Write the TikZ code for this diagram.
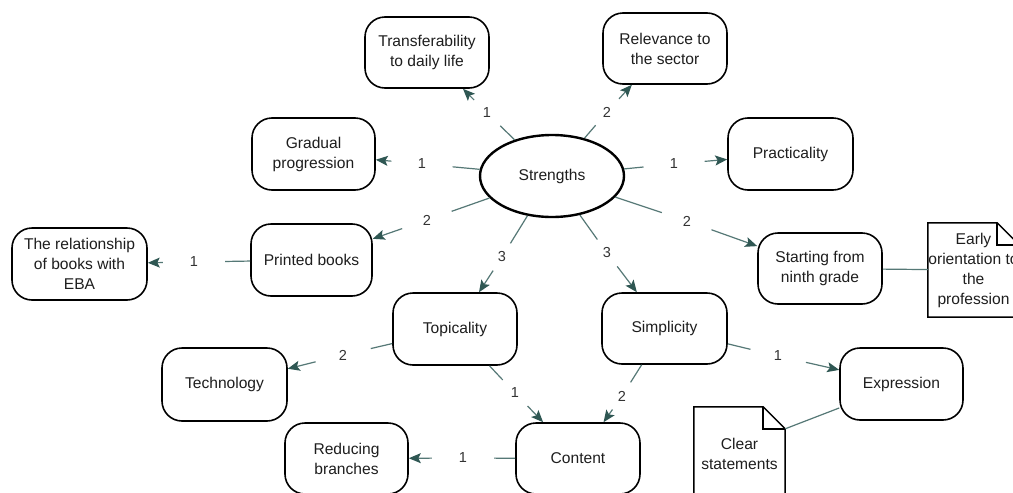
\documentclass[tikz,border=0pt]{standalone}
\usepackage{fontspec}
\setmainfont{Liberation Sans}
\usetikzlibrary{shapes.geometric,arrows.meta}
\definecolor{conn}{HTML}{557876}
\definecolor{tipc}{HTML}{2F5753}
\definecolor{txt}{HTML}{1E1E1E}
\begin{document}
\begin{tikzpicture}[x=1pt,y=-1pt,
  box/.style={draw=black, line width=1.6pt, rounded corners=20pt,
    minimum width=124pt, minimum height=71pt, align=center,
    font=\fontsize{15.6}{20}\selectfont, text=txt, inner sep=2pt},
  notebox/.style={minimum width=91pt, minimum height=94pt, align=center,
    font=\fontsize{15.6}{20}\selectfont, text=txt, inner sep=0pt},
  notedraw/.style={draw=black, line width=1.5pt, line join=miter},
  lbl/.style={ellipse, minimum width=62pt, minimum height=28pt, inner sep=0pt,
    font=\fontsize{14.5}{16}\selectfont, text=black!80},
  link/.style={draw=conn, line width=1.2pt},
  arr/.style={link, -{Stealth[length=12pt,width=10pt,inset=2.5pt,color=tipc]}},
]
\useasboundingbox (0,0) rectangle (1013,493);
\fill[white] (0,0) rectangle (1013,493);

% central node
\node[ellipse, draw=black, line width=2.4pt, minimum width=144pt, minimum height=82pt,
  font=\fontsize{15.6}{20}\selectfont, text=txt] (S) at (552,176) {Strengths};

% boxes
\node[box] (T)  at (427,52.5)   {Transferability\\to daily life};
\node[box] (R)  at (665,48.5)   {Relevance to\\the sector};
\node[box, minimum width=123pt, minimum height=72pt] (G)  at (313.5,154) {Gradual\\progression};
\node[box, minimum width=125pt, minimum height=72pt] (P)  at (790.5,154) {Practicality};
\node[box, minimum width=121pt, minimum height=72pt] (PB) at (311.5,260) {Printed books};
\node[box, minimum width=135pt, minimum height=72pt] (EBA) at (79.5,264) {The relationship\\of books with\\EBA};
\node[box] (SN) at (820,268.5) {Starting from\\ninth grade};
\node[box, minimum height=72pt] (TP) at (455,329) {Topicality};
\node[box, minimum width=125pt] (SI) at (664.5,328.5) {Simplicity};
\node[box, minimum width=125pt, minimum height=73pt] (TE) at (224.5,384.5) {Technology};
\node[box, minimum width=123pt, minimum height=72pt] (EX) at (901.5,384) {Expression};
\node[box] (C)  at (578,458.5) {Content};
\node[box, minimum width=123pt] (RB) at (346.5,458.5) {Reducing\\branches};

% notes
\node[notebox] (EO) at (973.5,270) {Early\\orientation to\\the\\profession};
\draw[notedraw] (EO.south west) -- (EO.north west) -- ([xshift=-22pt]EO.north east)
  -- ([yshift=-22pt]EO.north east) -- (EO.south east) -- cycle;
\draw[notedraw] ([xshift=-22pt]EO.north east) |- ([yshift=-22pt]EO.north east);

\node[notebox] (CS) at (739.5,454) {Clear\\statements};
\draw[notedraw] (CS.south west) -- (CS.north west) -- ([xshift=-22pt]CS.north east)
  -- ([yshift=-22pt]CS.north east) -- (CS.south east) -- cycle;
\draw[notedraw] ([xshift=-22pt]CS.north east) |- ([yshift=-22pt]CS.north east);
\coordinate (CSc) at ([yshift=-22pt]CS.north east);

% labels
\node[lbl] (l1)  at (487,113) {1};
\node[lbl] (l2)  at (607,112) {2};
\node[lbl] (l3)  at (674,164) {1};
\node[lbl] (l4)  at (422,164) {1};
\node[lbl] (l5)  at (427,220) {2};
\node[lbl] (l6)  at (502,257) {3};
\node[lbl] (l7)  at (607,253) {3};
\node[lbl] (l8)  at (687,221) {2};
\node[lbl] (l9)  at (194,262) {1};
\node[lbl] (l10) at (343,355) {2};
\node[lbl] (l11) at (515,393) {1};
\node[lbl] (l12) at (622,396) {2};
\node[lbl] (l13) at (778,356) {1};
\node[lbl] (l14) at (463,458) {1};

% connectors
\draw[link] (S) -- (l1);  \draw[arr] (l1) -- (T);
\draw[link] (S) -- (l2);  \draw[arr] (l2) -- (R);
\draw[link] (S) -- (l3);  \draw[arr] (l3) -- (P);
\draw[link] (S) -- (l4);  \draw[arr] (l4) -- (G);
\draw[link] (S) -- (l5);  \draw[arr] (l5) -- (PB);
\draw[link] (S) -- (l6);  \draw[arr] (l6) -- (TP);
\draw[link] (S) -- (l7);  \draw[arr] (l7) -- (SI);
\draw[link] (S) -- (l8);  \draw[arr] (l8) -- (SN);
\draw[link] (PB) -- (l9); \draw[arr] (l9) -- (EBA);
\draw[link] (TP) -- (l10); \draw[arr] (l10) -- (TE);
\draw[link] (TP) -- (l11); \draw[arr] (l11) -- (C);
\draw[link] (SI) -- (l12); \draw[arr] (l12) -- (C);
\draw[link] (SI) -- (l13); \draw[arr] (l13) -- (EX);
\draw[link] (C) -- (l14);  \draw[arr] (l14) -- (RB);

\draw[link] (SN) -- (EO);
\draw[link] (EX) -- (CSc);
\end{tikzpicture}
\end{document}
